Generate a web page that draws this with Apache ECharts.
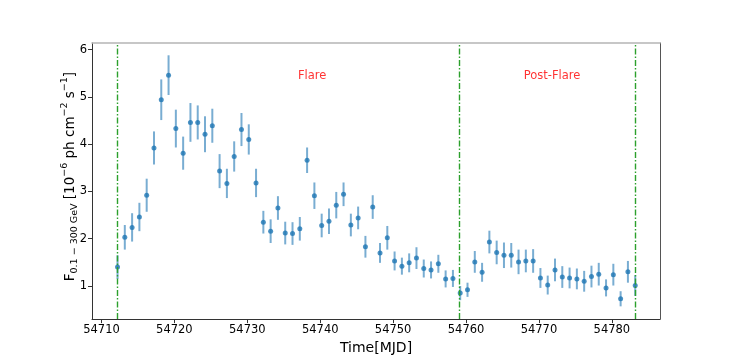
<!DOCTYPE html>
<html>
<head>
<meta charset="utf-8">
<script src="https://cdn.jsdelivr.net/npm/echarts@6/dist/echarts.min.js"></script>
<style>
  html, body { margin: 0; padding: 0; background: #fff; }
  #chart { width: 734px; height: 360px; }
</style>
</head>
<body>
<div id="chart"></div>
<script>
// light curve, MJD centres
const times = [
  54712.2, 54713.2, 54714.2, 54715.2, 54716.2, 54717.2, 54718.2, 54719.2, 54720.2, 54721.2,
  54722.2, 54723.2, 54724.2, 54725.2, 54726.2, 54727.2, 54728.2, 54729.2, 54730.2, 54731.2,
  54732.2, 54733.2, 54734.2, 54735.2, 54736.2, 54737.2, 54738.2, 54739.2, 54740.2, 54741.2,
  54742.2, 54743.2, 54744.2, 54745.2, 54746.2, 54747.2, 54748.2, 54749.2, 54750.2, 54751.2,
  54752.2, 54753.2, 54754.2, 54755.2, 54756.2, 54757.2, 54758.2, 54759.2, 54760.2, 54761.2,
  54762.2, 54763.2, 54764.2, 54765.2, 54766.2, 54767.2, 54768.2, 54769.2, 54770.2, 54771.2,
  54772.2, 54773.2, 54774.2, 54775.2, 54776.2, 54777.2, 54778.2, 54779.2, 54780.2, 54781.2,
  54782.2, 54783.2
]
const flux = [
  1.40, 2.03, 2.24, 2.46, 2.92, 3.92, 4.94, 5.46, 4.33, 3.81,
  4.46, 4.46, 4.21, 4.39, 3.43, 3.17, 3.74, 4.31, 4.10, 3.18,
  2.35, 2.16, 2.65, 2.12, 2.11, 2.21, 3.66, 2.91, 2.28, 2.37,
  2.71, 2.94, 2.29, 2.44, 1.83, 2.67, 1.70, 2.02, 1.53, 1.42,
  1.49, 1.59, 1.37, 1.34, 1.47, 1.15, 1.16, 0.85, 0.92, 1.51,
  1.29, 1.93, 1.71, 1.65, 1.65, 1.51, 1.53, 1.53, 1.17, 1.02,
  1.34, 1.19, 1.17, 1.15, 1.10, 1.20, 1.25, 0.96, 1.24, 0.73,
  1.30, 1.01
]
const fluxErr = [
  0.25, 0.26, 0.30, 0.30, 0.35, 0.35, 0.43, 0.42, 0.40, 0.35,
  0.41, 0.36, 0.38, 0.36, 0.36, 0.31, 0.32, 0.35, 0.32, 0.30,
  0.24, 0.25, 0.25, 0.24, 0.24, 0.25, 0.27, 0.28, 0.25, 0.27,
  0.28, 0.25, 0.24, 0.24, 0.23, 0.25, 0.21, 0.25, 0.20, 0.18,
  0.20, 0.23, 0.19, 0.18, 0.19, 0.18, 0.18, 0.15, 0.15, 0.23,
  0.20, 0.24, 0.25, 0.27, 0.26, 0.26, 0.24, 0.25, 0.21, 0.20,
  0.24, 0.23, 0.22, 0.22, 0.22, 0.23, 0.24, 0.18, 0.23, 0.16,
  0.23, 0.22
]
const periodLines = [54712.1, 54759.0, 54783.2]
const periodLabels = [
  { name: 'Flare', x: 54738.9, y: 5.44 },
  { name: 'Post-Flare', x: 54771.8, y: 5.44 }
]
const xTicks = [54710, 54720, 54730, 54740, 54750, 54760, 54770, 54780]
const yTicks = [1, 2, 3, 4, 5, 6]

const blue = '#1f77b4'
const font = 'DejaVu Sans'

const chart = echarts.init(document.getElementById('chart'))

const points = times.map((t, i) => [t, flux[i]])
const bars = times.map((t, i) => [t, flux[i], fluxErr[i]])

chart.setOption({
  animation: false,
  grid: { left: 92, right: 74, top: 43, bottom: 40 },
  xAxis: [
    {
      type: 'value',
      min: 54708.7,
      max: 54786.6,
      name: 'Time[MJD]',
      nameLocation: 'middle',
      nameGap: 21,
      nameTextStyle: { fontFamily: font, fontSize: 14, color: '#000' },
      axisLine: { lineStyle: { color: '#333', width: 1 } },
      axisTick: { length: 4, lineStyle: { color: '#333' }, customValues: xTicks },
      axisLabel: {
        fontFamily: font, fontSize: 11.5, color: '#000', margin: 5,
        customValues: xTicks, formatter: v => String(v)
      },
      splitLine: { show: false }
    },
    {
      type: 'value',
      position: 'top',
      min: 54708.7,
      max: 54786.6,
      axisLine: { lineStyle: { color: '#b5b5b5', width: 1.5 } },
      axisTick: { show: false },
      axisLabel: { show: false },
      splitLine: { show: false }
    }
  ],
  yAxis: [
    {
      type: 'value',
      min: 0.3,
      max: 6.14,
      name: '{t|F}{s|0.1 − 300 GeV}{t| [10}{p|−6}{t| ph cm}{p|−2}{t| s}{p|−1}{t|]}',
      nameLocation: 'middle',
      nameRotate: 90,
      nameGap: 12,
      nameMoveOverlap: false,
      nameTextStyle: {
        padding: [0, 0, 0, 9],
        rich: {
          t: { fontFamily: font, fontSize: 13.5, color: '#000', lineHeight: 20, verticalAlign: 'middle' },
          s: { fontFamily: font, fontSize: 9.5, color: '#000', lineHeight: 10, verticalAlign: 'bottom' },
          p: { fontFamily: font, fontSize: 9.5, color: '#000', lineHeight: 10, verticalAlign: 'top' }
        }
      },
      axisLine: { show: true, lineStyle: { color: '#333', width: 1 } },
      axisTick: { show: true, length: 4, lineStyle: { color: '#333' }, customValues: yTicks },
      axisLabel: { fontFamily: font, fontSize: 11.5, color: '#000', margin: 5, customValues: yTicks },
      splitLine: { show: false }
    },
    {
      type: 'value',
      position: 'right',
      min: 0.3,
      max: 6.14,
      axisLine: { show: true, lineStyle: { color: '#555', width: 1 } },
      axisTick: { show: false },
      axisLabel: { show: false },
      splitLine: { show: false }
    }
  ],
  series: [
    {
      type: 'custom',
      data: bars,
      z: 2,
      renderItem: (params, api) => {
        const x = api.value(0)
        const y = api.value(1)
        const e = api.value(2)
        const p1 = api.coord([x, y - e])
        const p2 = api.coord([x, y + e])
        return {
          type: 'line',
          shape: { x1: p1[0], y1: p1[1], x2: p2[0], y2: p2[1] },
          style: { stroke: 'rgba(31,119,180,0.6)', lineWidth: 2 }
        }
      },
      markLine: {
        silent: true,
        symbol: 'none',
        label: { show: false },
        lineStyle: { color: '#2ca02c', width: 1.4, type: [6, 2, 1.5, 2] },
        data: periodLines.map(v => ({ xAxis: v }))
      }
    },
    {
      type: 'scatter',
      data: points,
      symbol: 'circle',
      symbolSize: 5,
      itemStyle: { color: blue },
      z: 3
    },
    {
      type: 'scatter',
      data: periodLabels.map(d => ({ value: [d.x, d.y], name: d.name })),
      symbolSize: 0,
      silent: true,
      label: {
        show: true,
        position: 'inside',
        formatter: p => p.name,
        fontFamily: font,
        fontSize: 11.5,
        color: '#ff0000'
      }
    }
  ]
})
</script>
</body>
</html>
